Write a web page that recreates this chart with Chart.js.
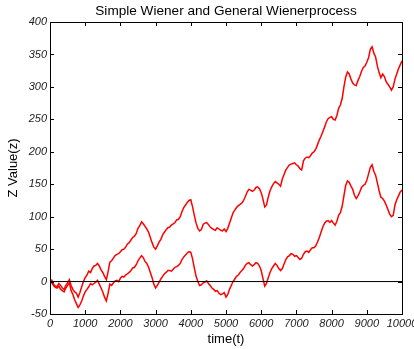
<!DOCTYPE html>
<html>
<head>
<meta charset="utf-8">
<script src="https://cdn.jsdelivr.net/npm/chart.js@4.4.1/dist/chart.umd.min.js"></script>
<style>
  html, body { margin: 0; padding: 0; background: #fff; }
  #wrap { width: 414px; height: 349px; }
</style>
</head>
<body>
<div id="wrap"><canvas id="chart"></canvas></div>
<script>
// time steps, one sample every 50 steps
const times = [
  0, 50, 100, 150, 200, 250, 300, 350, 400, 450, 500, 550, 600, 650, 700, 750, 800, 850, 900, 950,
  1000, 1050, 1100, 1150, 1200, 1250, 1300, 1350, 1400, 1450, 1500, 1550, 1600, 1650, 1700, 1750, 1800, 1850, 1900, 1950,
  2000, 2050, 2100, 2150, 2200, 2250, 2300, 2350, 2400, 2450, 2500, 2550, 2600, 2650, 2700, 2750, 2800, 2850, 2900, 2950,
  3000, 3050, 3100, 3150, 3200, 3250, 3300, 3350, 3400, 3450, 3500, 3550, 3600, 3650, 3700, 3750, 3800, 3850, 3900, 3950,
  4000, 4050, 4100, 4150, 4200, 4250, 4300, 4350, 4400, 4450, 4500, 4550, 4600, 4650, 4700, 4750, 4800, 4850, 4900, 4950,
  5000, 5050, 5100, 5150, 5200, 5250, 5300, 5350, 5400, 5450, 5500, 5550, 5600, 5650, 5700, 5750, 5800, 5850, 5900, 5950,
  6000, 6050, 6100, 6150, 6200, 6250, 6300, 6350, 6400, 6450, 6500, 6550, 6600, 6650, 6700, 6750, 6800, 6850, 6900, 6950,
  7000, 7050, 7100, 7150, 7200, 7250, 7300, 7350, 7400, 7450, 7500, 7550, 7600, 7650, 7700, 7750, 7800, 7850, 7900, 7950,
  8000, 8050, 8100, 8150, 8200, 8250, 8300, 8350, 8400, 8450, 8500, 8550, 8600, 8650, 8700, 8750, 8800, 8850, 8900, 8950,
  9000, 9050, 9100, 9150, 9200, 9250, 9300, 9350, 9400, 9450, 9500, 9550, 9600, 9650, 9700, 9750, 9800, 9850, 9900, 9950,
  10000
]

// general wiener process (with drift)
const generalZ = [
  0, 2, -4, -7, -8, -3, -6, -10, -12, -6, -2, 3, -6, -12, -16, -18, -24, -17, -8, 0,
  6, 10, 16, 14, 20, 24, 25, 28, 24, 18, 14, 8, 3, 15, 30, 32, 36, 40, 42, 43,
  46, 49, 50, 53, 58, 60, 64, 68, 70, 74, 82, 86, 92, 89, 85, 81, 76, 68, 60, 53,
  50, 55, 61, 65, 72, 76, 80, 83, 84, 87, 89, 91, 95, 96, 100, 108, 114, 118, 122, 125,
  126, 115, 102, 90, 82, 78, 80, 88, 90, 91, 88, 84, 82, 80, 79, 83, 81, 79, 78, 81,
  77, 82, 90, 98, 106, 110, 114, 117, 119, 121, 125, 131, 138, 142, 141, 139, 141, 145, 146, 143,
  137, 127, 115, 118, 130, 140, 146, 151, 154, 152, 150, 147, 158, 165, 172, 176, 180, 181, 182, 183,
  180, 178, 174, 172, 186, 190, 192, 191, 194, 198, 200, 204, 211, 218, 224, 231, 238, 246, 251, 253,
  254, 250, 249, 256, 267, 272, 282, 300, 315, 323, 320, 312, 306, 303, 302, 310, 316, 324, 330, 332,
  338, 345, 358, 362, 352, 346, 332, 322, 314, 320, 316, 308, 304, 300, 295, 300, 312, 320, 328, 334,
  340
]

// simple wiener process
const simpleZ = [
  0, -2, -6, -9, -10, -7, -12, -14, -16, -10, -6, -2, -14, -20, -28, -34, -40, -36, -30, -22,
  -16, -12, -8, -3, -5, -3, -1, 2, -4, -10, -16, -24, -30, -18, -4, -6, -2, 1, 2, 0,
  5, 8, 7, 10, 12, 14, 17, 21, 22, 26, 32, 36, 40, 37, 31, 28, 22, 14, 6, -4,
  -10, -6, -1, 4, 8, 12, 14, 17, 17, 16, 19, 22, 23, 25, 28, 34, 38, 41, 44, 46,
  45, 35, 21, 8, 0, -6, -5, -2, -1, 1, -3, -6, -10, -12, -15, -14, -18, -20, -19, -17,
  -24, -20, -12, -6, 0, 4, 8, 10, 14, 17, 20, 25, 28, 29, 26, 24, 26, 29, 28, 24,
  17, 5, -7, -3, 6, 14, 20, 24, 28, 25, 20, 17, 20, 27, 34, 38, 40, 43, 42, 39,
  40, 37, 34, 36, 42, 46, 47, 45, 49, 52, 52, 55, 61, 68, 76, 84, 90, 93, 94, 91,
  94, 90, 87, 93, 102, 106, 116, 132, 148, 155, 153, 147, 142, 133, 128, 132, 138, 145, 148, 150,
  156, 166, 176, 180, 170, 164, 152, 140, 130, 128, 124, 118, 111, 104, 100, 102, 118, 126, 132, 138,
  141
]

const zeroLineT = [0, 10000]
const zeroLineZ = [0, 0]

const xTicks = [0, 1000, 2000, 3000, 4000, 5000, 6000, 7000, 8000, 9000, 10000]
const yTicks = [-50, 0, 50, 100, 150, 200, 250, 300, 350, 400]

const titleText = 'Simple Wiener and General Wienerprocess'

const toPoints = (xs, ys) => xs.map((x, i) => ({ x: x, y: ys[i] }))

const fontFamily = '"Liberation Sans", Arial, sans-serif'

// matlab style box with inward ticks on all four sides, title centred on the axes
const boxPlugin = {
  id: 'matlabBox',
  afterDraw(chart) {
    const { ctx, chartArea: a, scales } = chart
    ctx.save()
    ctx.strokeStyle = '#000'
    ctx.lineWidth = 1
    ctx.strokeRect(a.left + 0.5, a.top + 0.5, a.right - a.left, a.bottom - a.top)
    ctx.beginPath()
    xTicks.forEach(v => {
      const px = Math.round(scales.x.getPixelForValue(v)) + 0.5
      ctx.moveTo(px, a.bottom); ctx.lineTo(px, a.bottom - 4)
      ctx.moveTo(px, a.top); ctx.lineTo(px, a.top + 4)
    })
    yTicks.forEach(v => {
      const py = Math.round(scales.y.getPixelForValue(v)) + 0.5
      ctx.moveTo(a.left, py); ctx.lineTo(a.left + 4, py)
      ctx.moveTo(a.right, py); ctx.lineTo(a.right - 4, py)
    })
    ctx.stroke()

    ctx.fillStyle = '#000'
    ctx.font = '13.6px ' + fontFamily
    ctx.textAlign = 'center'
    ctx.textBaseline = 'middle'
    ctx.fillText(titleText, (a.left + a.right) / 2, 11)
    ctx.restore()
  }
}

const ctx = document.getElementById('chart')

new Chart(ctx, {
  type: 'line',
  data: {
    datasets: [
      {
        label: 'zero',
        data: toPoints(zeroLineT, zeroLineZ),
        borderColor: '#000',
        borderWidth: 1,
        pointRadius: 0,
        order: 0
      },
      {
        label: 'general',
        data: toPoints(times, generalZ),
        borderColor: '#ff0000',
        borderWidth: 1.5,
        pointRadius: 0,
        order: 1
      },
      {
        label: 'simple',
        data: toPoints(times, simpleZ),
        borderColor: '#ff0000',
        borderWidth: 1.5,
        pointRadius: 0,
        order: 1
      }
    ]
  },
  options: {
    responsive: true,
    maintainAspectRatio: false,
    animation: false,
    layout: { padding: { left: 0, right: 12, top: 22, bottom: 0 } },
    plugins: {
      legend: { display: false },
      tooltip: { enabled: false },
      title: { display: false }
    },
    scales: {
      x: {
        type: 'linear',
        min: 0,
        max: 10000,
        afterBuildTicks: s => { s.ticks = xTicks.map(v => ({ value: v })) },
        afterFit: s => { s.height = 35; s.paddingLeft = 0; s.paddingRight = 0 },
        grid: { display: false, drawTicks: false },
        border: { display: false },
        ticks: {
          padding: 3,
          maxRotation: 0,
          autoSkip: false,
          color: '#222',
          font: { family: fontFamily, size: 11, style: 'italic' },
          callback: v => String(v)
        },
        title: {
          display: true,
          text: 'time(t)',
          color: '#000',
          font: { family: fontFamily, size: 13 },
          padding: { top: 0, bottom: 2 }
        }
      },
      y: {
        type: 'linear',
        min: -50,
        max: 400,
        afterBuildTicks: s => { s.ticks = yTicks.map(v => ({ value: v })) },
        afterFit: s => { s.width = 50 },
        grid: { display: false, drawTicks: false },
        border: { display: false },
        ticks: {
          padding: 3,
          autoSkip: false,
          color: '#222',
          font: { family: fontFamily, size: 11, style: 'italic' },
          callback: v => String(v)
        },
        title: {
          display: true,
          text: 'Z Value(z)',
          color: '#000',
          font: { family: fontFamily, size: 13 },
          padding: { top: 6, bottom: 0 }
        }
      }
    }
  },
  plugins: [boxPlugin]
})
</script>
</body>
</html>
